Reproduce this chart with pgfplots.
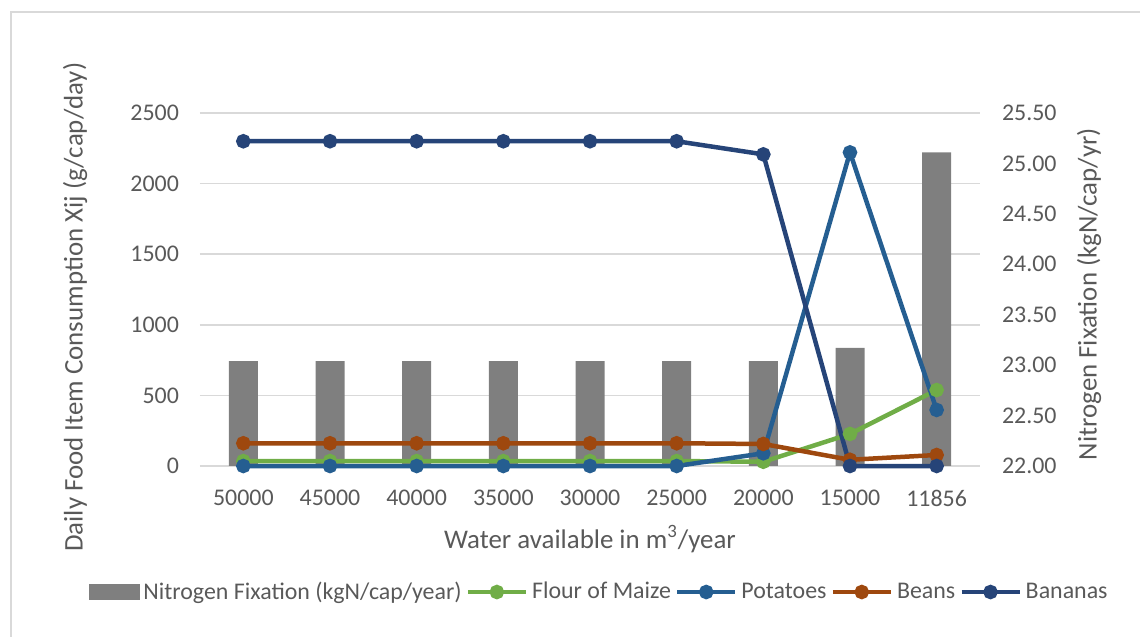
\documentclass[border=0pt]{standalone}
\usepackage{pgfplots}
\pgfplotsset{compat=1.18}
\usepackage{fontspec}
\setmainfont{Carlito}
\definecolor{txt}{HTML}{595959}
\definecolor{gridc}{HTML}{D9D9D9}
\definecolor{nbar}{HTML}{7F7F7F}
\definecolor{maize}{HTML}{70AD47}
\definecolor{pot}{HTML}{255E91}
\definecolor{beans}{HTML}{9E480E}
\definecolor{ban}{HTML}{264478}
\pgfplotsset{
  base/.style={width=390bp,height=176.5bp,scale only axis,at={(0,0)},anchor=south west,
    xmin=-0.5,xmax=8.5,font=\fontsize{12}{14}\selectfont,
    /pgf/number format/assume math mode=true,
    tick style={draw=none},ticklabel style={text=txt},
    label style={text=txt,font=\fontsize{13.5}{16}\selectfont}},
  lstyle/.style={line width=2.25bp,mark=*,mark size=2.5bp,mark options={solid},
    legend image code/.code={\draw[mark repeat=2,mark phase=2,##1] plot coordinates {(0bp,0bp) (14.5bp,0bp) (29bp,0bp)};}}
}
\begin{document}
\begin{tikzpicture}
\useasboundingbox (-100bp,-85.5bp) rectangle (470bp,233bp);
\draw[gridc,line width=1bp] (-94.5bp,-100bp) -- (-94.5bp,227bp) -- (480bp,227bp);
% left axis with grid
\begin{axis}[base,ymin=0,ymax=2500,ytick={0,500,...,2500},
  ymajorgrids,grid style={gridc,line width=0.75bp},axis line style={draw=none},
  xtick={0,...,8},xticklabels={50000,45000,40000,35000,30000,25000,20000,15000,11856},
  xticklabel style={yshift=-8.5bp},
  yticklabel style={xshift=-7bp,/pgf/number format/.cd,fixed,1000 sep={}},
  xlabel={Water available in m\textsuperscript{3}/year},
  xlabel style={at={(axis description cs:0.5,-0.207)},anchor=center},
  ylabel={Daily Food Item Consumption Xij (g/cap/day)},
  ylabel style={at={(axis description cs:-0.16,0.45)},anchor=center}]
\addplot[draw=none] coordinates {(0,0)};
\end{axis}
% right axis with bars
\begin{axis}[base,ymin=22,ymax=25.5,ytick={22,22.5,...,25.5},
  axis y line*=right,axis x line=none,axis line style={draw=none},
  yticklabel style={xshift=7.5bp,/pgf/number format/.cd,fixed,fixed zerofill,precision=2},
  ylabel={Nitrogen Fixation (kgN/cap/yr)},
  ylabel style={at={(axis description cs:1.14,0.487)},anchor=center,rotate=0}]
\addplot[ybar,bar width=14.5bp,fill=nbar,draw=none] coordinates {
(0,23.04) (1,23.04) (2,23.04) (3,23.04) (4,23.04) (5,23.04) (6,23.04) (7,23.17) (8,25.11)};
\end{axis}
% lines
\begin{axis}[base,ymin=0,ymax=2500,hide axis,clip=false,
  legend style={at={(axis description cs:0.513,-0.357)},anchor=center,draw=none,fill=none,
    legend columns=-1,font=\fontsize{12}{14}\selectfont,text=txt,
    /tikz/every even column/.append style={column sep=0bp}},
  legend cell align=left]
\addlegendimage{legend image code/.code={\fill[nbar] (0bp,-3.75bp) rectangle (25bp,3.75bp);}}
\addlegendentry{Nitrogen Fixation (kgN/cap/year)}
\addplot[lstyle,color=maize] coordinates {(0,35) (1,35) (2,35) (3,35) (4,35) (5,35) (6,30) (7,227) (8,538)};
\addlegendentry{Flour of Maize}
\addplot[lstyle,color=pot] coordinates {(0,0) (1,0) (2,0) (3,0) (4,0) (5,0) (6,90) (7,2221) (8,397)};
\addlegendentry{Potatoes}
\addplot[lstyle,color=beans] coordinates {(0,161) (1,161) (2,161) (3,161) (4,161) (5,161) (6,156) (7,44) (8,78)};
\addlegendentry{Beans}
\addplot[lstyle,color=ban] coordinates {(0,2300) (1,2300) (2,2300) (3,2300) (4,2300) (5,2300) (6,2207) (7,0) (8,0)};
\addlegendentry{Bananas}
\end{axis}
\end{tikzpicture}
\end{document}
